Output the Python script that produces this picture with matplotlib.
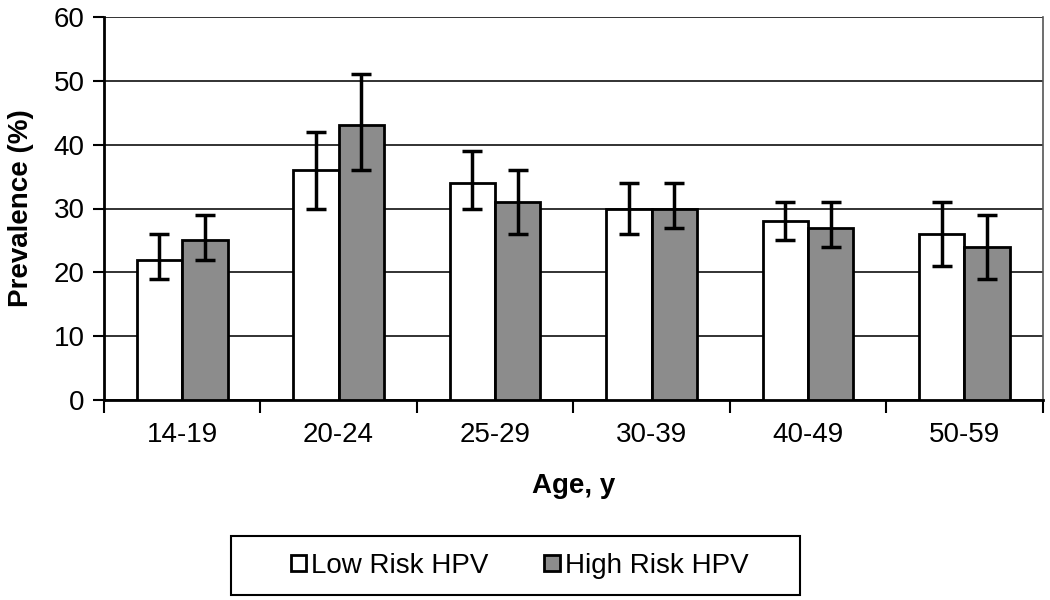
import numpy as np
import matplotlib.pyplot as plt
import matplotlib as mpl
from matplotlib.patches import Rectangle
mpl.rcParams['font.family'] = ['Liberation Sans', 'DejaVu Sans']

# data
ages = ['14-19', '20-24', '25-29', '30-39', '40-49', '50-59']
low = [22, 36, 34, 30, 28, 26]
low_lo = [19, 30, 30, 26, 25, 21]
low_hi = [26, 42, 39, 34, 31, 31]
high = [25, 43, 31, 30, 27, 24]
high_lo = [22, 36, 26, 27, 24, 19]
high_hi = [29, 51, 36, 34, 31, 29]

fig = plt.figure(figsize=(10.5, 6), dpi=100)
ax = fig.add_axes([0.099, 0.333, 0.894, 0.639])

x = np.arange(len(ages))
w = 0.29
low_err = [np.array(low) - np.array(low_lo), np.array(low_hi) - np.array(low)]
high_err = [np.array(high) - np.array(high_lo), np.array(high_hi) - np.array(high)]

ax.bar(x - w/2, low, w, color='white', edgecolor='black', linewidth=2, label='Low Risk HPV', zorder=3)
ax.bar(x + w/2, high, w, color='#8c8c8c', edgecolor='black', linewidth=2, label='High Risk HPV', zorder=3)
ax.errorbar(x - w/2, low, yerr=low_err, fmt='none', ecolor='black', elinewidth=2.5, capsize=7, capthick=2.5, zorder=4)
ax.errorbar(x + w/2, high, yerr=high_err, fmt='none', ecolor='black', elinewidth=2.5, capsize=7, capthick=2.5, zorder=4)

ax.set_xlim(-0.5, len(ages) - 0.5)
ax.set_ylim(0, 60)
ax.set_yticks(range(0, 61, 10))
ax.yaxis.grid(True, color='#222222', linewidth=1.3, zorder=0)
ax.set_axisbelow(True)

# category labels centred, ticks between groups
ax.set_xticks(np.arange(-0.5, len(ages), 1.0))
ax.set_xticklabels([])
ax.set_xticks(x, minor=True)
ax.set_xticklabels(ages, minor=True, fontsize=20)
ax.tick_params(axis='x', which='minor', length=0, pad=16)
ax.tick_params(axis='x', which='major', length=9, width=1.5, direction='out')
ax.tick_params(axis='y', length=8, width=1.5, labelsize=20, pad=6)

ax.spines['top'].set_visible(False)
ax.spines['left'].set_linewidth(2)
ax.spines['bottom'].set_linewidth(2)
ax.spines['right'].set_linewidth(1.2)
ax.spines['right'].set_color('#555555')

ax.set_ylabel('Prevalence (%)', fontsize=20, fontweight='bold', labelpad=14)
ax.set_xlabel('Age, y', fontsize=20, fontweight='bold', labelpad=18)

# legend without its own frame, box drawn separately to match the wide padding
leg = fig.legend(loc='center', bbox_to_anchor=(0.495, 0.057), ncol=2, fontsize=20,
                 frameon=False, handlelength=0.55, handleheight=0.55,
                 handletextpad=0.2, columnspacing=2.0, borderaxespad=0)
fig.add_artist(Rectangle((0.22, 0.009), 0.542, 0.097, transform=fig.transFigure,
                         fill=False, edgecolor='black', linewidth=1.5))
fig.savefig('out.png', dpi=100)
